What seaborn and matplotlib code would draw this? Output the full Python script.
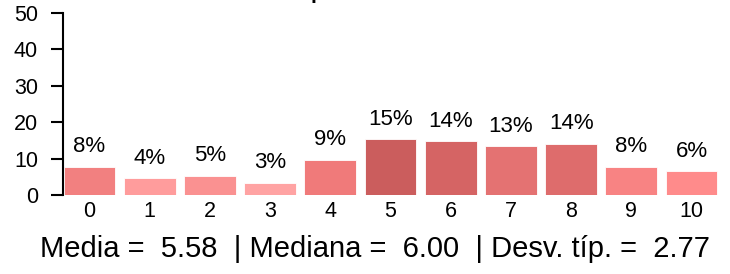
import pandas as pd
import seaborn as sns
import matplotlib.pyplot as plt

# Data
scores = ['0', '1', '2', '3', '4', '5', '6', '7', '8', '9', '10']
percent = [7.8, 4.6, 5.2, 3.4, 9.6, 15.3, 14.7, 13.4, 14.1, 7.8, 6.5]
labels = ['8%', '4%', '5%', '3%', '9%', '15%', '14%', '13%', '14%', '8%', '6%']
colors = ['#F28080', '#FF9C9C', '#FA9191', '#FFA3A3', '#F07A7A', '#CB5D5D',
          '#D56464', '#E47272', '#DE6C6C', '#F88383', '#FF8B8B']
title = 'puntuación total'
summary = 'Media =  5.58  | Mediana =  6.00  | Desv. típ. =  2.77'

df = pd.DataFrame({'score': scores, 'pct': percent})

sns.set_style('ticks')
plt.rcParams['font.family'] = ['Liberation Sans', 'DejaVu Sans']
plt.rcParams['text.color'] = 'black'

fig = plt.figure(figsize=(7.3, 2.74), dpi=100)
ax = fig.add_axes([63 / 730, 1 - 195 / 274, 655 / 730, 182 / 274])

sns.barplot(data=df, x='score', y='pct', hue='score', palette=colors,
            saturation=1, legend=False, width=0.86, edgecolor='white',
            linewidth=0.6, ax=ax)

for i, (v, lab) in enumerate(zip(percent, labels)):
    ax.annotate(lab, (i, v), xytext=(0, 7), textcoords='offset points',
                ha='center', va='bottom', fontsize=16, color='black')

ax.set_ylim(0, 50)
ax.set_xlim(-0.44, 10.44)
ax.set_yticks([0, 10, 20, 30, 40, 50])
ax.set_xlabel('')
ax.set_ylabel('')
sns.despine(ax=ax, bottom=True)
ax.spines['left'].set_linewidth(1.5)
ax.spines['left'].set_color('black')
ax.tick_params(axis='y', length=9, width=1.5, labelsize=15.5, pad=9, colors='black')
ax.tick_params(axis='x', length=0, labelsize=15.5, pad=4, colors='black')

fig.text(392 / 730, 1 + 1 / 274, title, ha='center', va='baseline',
         fontsize=15, fontweight='bold')
fig.text(375 / 730, 17 / 274, summary, ha='center', va='baseline', fontsize=21)

fig.savefig('out.png', dpi=100)
